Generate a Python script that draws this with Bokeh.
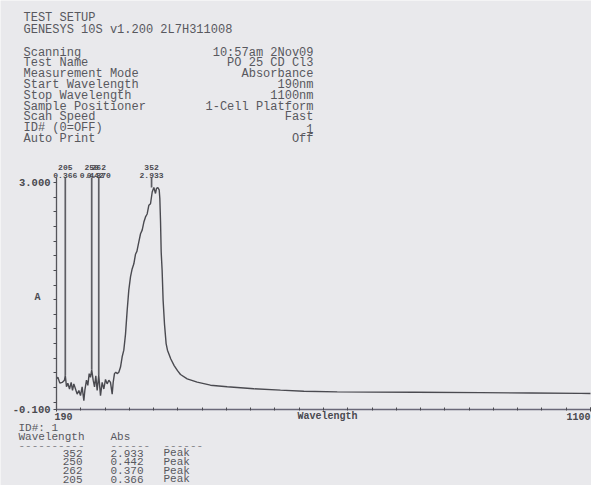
from bokeh.plotting import figure
from bokeh.models import Range1d, FixedTicker, Label, PrintfTickFormatter
from bokeh.embed import file_html
from bokeh.resources import INLINE

# ---------------- data ----------------
wavelength_nm = [190, 192.3, 195.7, 199.7, 203.6, 205, 207, 209.3, 212.2, 215, 217.3, 219.5,
                 222.4, 225.2, 228.1, 230.9, 233.7, 236.6, 238.3, 241.1, 243.4, 245.7, 247.9,
                 250, 252.5, 254.8, 257, 259.3, 262, 265, 267.8, 270.7, 273.5, 276.3, 279.2,
                 282, 284.9, 286.6, 288.8, 291.1, 293.4, 296.2, 299.1, 301.9, 304.7, 307.6,
                 310.4, 313.2, 316.1, 318.9, 321.8, 324.6, 327, 330.3, 333.2, 336, 338.9,
                 341.7, 344.5, 347.4, 350.2, 353.1, 355.9, 358.7, 360.4, 362.7, 365, 366.1,
                 367.3, 368.4, 370, 371.7, 374, 376.8, 379.1, 384.8, 390.5, 396.2, 401.3,
                 412.7, 429.7, 452.4, 480.9, 526.3, 571.7, 611.5, 668.3, 725.1, 800, 913,
                 998, 1083, 1100]
absorbance = [0.32, 0.34, 0.26, 0.27, 0.30, 0.366, 0.21, 0.26, 0.18, 0.27, 0.16, 0.25,
              0.18, 0.11, 0.16, 0.09, 0.21, 0.02, 0.16, 0.30, 0.23, 0.39, 0.34,
              0.442, 0.30, 0.21, 0.36, 0.16, 0.37, 0.09, 0.27, 0.18, 0.31, 0.25, 0.30,
              0.27, 0.11, 0.27, 0.39, 0.41, 0.39, 0.41, 0.48, 0.62, 0.71, 0.93,
              1.25, 1.53, 1.71, 1.82, 1.89, 2.02, 2.06, 2.19, 2.30, 2.35, 2.46,
              2.53, 2.57, 2.69, 2.71, 2.87, 2.933, 2.85, 2.92, 2.93, 2.90, 2.78,
              2.46, 2.05, 1.80, 1.39, 1.07, 0.80, 0.71, 0.59, 0.50, 0.43, 0.378,
              0.319, 0.273, 0.232, 0.21, 0.183, 0.164, 0.15, 0.141, 0.137, 0.135, 0.13,
              0.125, 0.12, 0.118]

peak_nm = [352, 250, 262, 205]
peak_abs = [2.933, 0.442, 0.370, 0.366]
peak_kind = ["Peak", "Peak", "Peak", "Peak"]

setup_title = ["TEST SETUP", "GENESYS 10S v1.200 2L7H311008"]
setup_keys = ["Scanning", "Test Name", "Measurement Mode", "Start Wavelength",
              "Stop Wavelength", "Sample Positioner", "Scan Speed", "ID# (0=OFF)", "Auto Print"]
setup_vals = ["10:57am 2Nov09", "PO 25 CD Cl3", "Absorbance", "190nm", "1100nm",
              "1-Cell Platform", "Fast", "1", "Off"]

x_start, x_end = 190, 1100
y_start, y_end = -0.1, 3.0
y_marker_top = 3.068

# ---------------- layout (canvas pixels) ----------------
W, H = 591, 485
X0_PX, X1_PX = 56, 590      # where 190 nm and 1100 nm sit
Y0_PX, Y1_PX = 409, 182     # where -0.1 and 3.000 sit
sx = (X1_PX - X0_PX) / (x_end - x_start)
sy = (Y0_PX - Y1_PX) / (y_end - y_start)
xr0 = x_start - X0_PX / sx
xr1 = xr0 + W / sx
yr1 = y_end + Y1_PX / sy
yr0 = yr1 - H / sy

PAPER = "#e9e9ec"
INK = "#4a4a50"
TXT = "#58585e"
MONO = "Liberation Mono"

p = figure(width=W, height=H, output_backend="svg", toolbar_location=None,
           x_range=Range1d(xr0, xr1), y_range=Range1d(yr0, yr1), min_border=0)
p.background_fill_color = PAPER
p.border_fill_color = PAPER
p.outline_line_color = None
p.xgrid.visible = False
p.ygrid.visible = False

def dx(ix):
    return xr0 + ix / sx
def dy(iy):
    return yr1 - iy / sy

# spectrum
p.line(wavelength_nm, absorbance, line_color=INK, line_width=1.4)
# peak markers
p.segment(x0=peak_nm, y0=peak_abs, x1=peak_nm, y1=[y_marker_top] * len(peak_nm),
          line_color="#5e5e64", line_width=1.7)

# axes drawn at fixed locations inside the plotting area
xa = p.xaxis[0]
xa.fixed_location = y_start
xa.bounds = (x_start, xr1)
xa.ticker = FixedTicker(ticks=[x_start, x_end],
                        minor_ticks=[x_start + k * (x_end - x_start) / 22 for k in range(23)])
xa.major_label_overrides = {x_start: "", x_end: ""}
xa.axis_line_color = "#6a6878"
xa.axis_line_width = 1.3
xa.major_tick_in, xa.major_tick_out = 2, 2
xa.minor_tick_in, xa.minor_tick_out = 2, 1
xa.major_tick_line_color = INK
xa.minor_tick_line_color = INK

ya = p.yaxis[0]
ya.fixed_location = x_start
ya.bounds = (y_start, y_marker_top)
ya.ticker = FixedTicker(ticks=[y_start, y_end],
                        minor_ticks=[round(y_end - 0.2 * k, 1) for k in range(1, 16)])
ya.formatter = PrintfTickFormatter(format="%.3f")
ya.axis_line_color = "#55555b"
ya.axis_line_width = 1.3
ya.major_tick_in, ya.major_tick_out = 0, 3
ya.minor_tick_in, ya.minor_tick_out = 0, 3
ya.major_tick_line_color = INK
ya.minor_tick_line_color = INK
ya.major_label_standoff = 3
ya.major_label_text_font = MONO
ya.major_label_text_font_style = "bold"
ya.major_label_text_font_size = "10.5px"
ya.major_label_text_color = INK

def lab(x, y, text, size="12px", align="left", color=TXT, style="normal"):
    p.add_layout(Label(x=x, y=y, text=text, text_font=MONO, text_font_size=size,
                       text_align=align, text_baseline="middle", text_color=color,
                       text_font_style=style))

# x tick labels and axis titles
lab(dx(54), dy(416), str(x_start), size="10px", align="left", color=INK, style="bold")
lab(dx(590), dy(416), str(x_end), size="10px", align="right", color=INK, style="bold")
lab(dx(37), dy(297), "A", size="10px", align="center", color=INK, style="bold")
lab(dx(327), dy(416), "Wavelength", size="10px", align="center", color=INK, style="bold")

# header block
lab(dx(23), dy(17), setup_title[0])
lab(dx(23), dy(29), setup_title[1])
for i, (k, v) in enumerate(zip(setup_keys, setup_vals)):
    yy = 52 + i * 10.8
    lab(dx(23), dy(yy), k)
    lab(dx(313), dy(yy), v, align="right")

# peak labels above the chart
for nm, a in zip(peak_nm, peak_abs):
    lab(nm, dy(166.5), str(nm), size="8px", align="center", color=INK, style="bold")
    lab(nm, dy(175), f"{a:.3f}", size="8px", align="center", color=INK, style="bold")

# result table
TS = "11px"
lab(dx(18), dy(427), "ID#: 1", size=TS)
lab(dx(18), dy(436), "Wavelength", size=TS)
lab(dx(110), dy(436), "Abs", size=TS)
for xx, d in [(18, "----------"), (110, "------"), (163, "------")]:
    lab(dx(xx), dy(444.5), d, size=TS, color="#85858b")
for i, (nm, a, kind) in enumerate(zip(peak_nm, peak_abs, peak_kind)):
    yy = 452.5 + i * 8.75
    lab(dx(82), dy(yy), str(nm), size=TS, align="right")
    lab(dx(110), dy(yy), f"{a:.3f}", size=TS)
    lab(dx(163), dy(yy), kind, size=TS)

open("out.html", "w").write(file_html(p, INLINE))
